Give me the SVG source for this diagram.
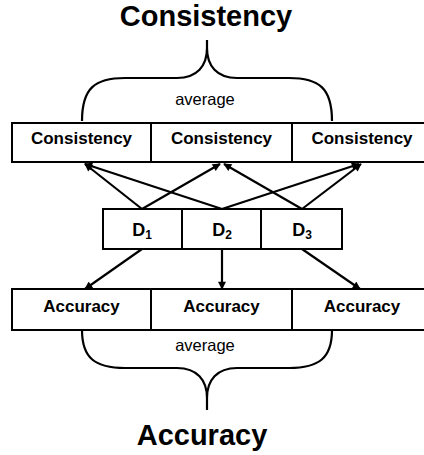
<svg xmlns="http://www.w3.org/2000/svg" width="424" height="455" viewBox="0 0 424 455">
<style>
.box{fill:#fff;stroke:#000;stroke-width:2}
.lbl{font-family:"Liberation Sans",Arial,sans-serif;font-weight:bold;font-size:17px;text-anchor:middle;fill:#000}
.dl{font-family:"Liberation Sans",Arial,sans-serif;font-weight:bold;font-size:18px;text-anchor:middle;fill:#000}
.title{font-family:"Liberation Sans",Arial,sans-serif;font-weight:bold;font-size:29px;text-anchor:middle;fill:#000}
.avg{font-family:"Liberation Sans",Arial,sans-serif;font-size:16.5px;text-anchor:middle;fill:#000}
.brace{fill:none;stroke:#000;stroke-width:2.2}
.arr{fill:none;stroke:#000;stroke-width:2.2;marker-end:url(#ah)}
</style>
<defs>
<marker id="ah" viewBox="0 0 10 10" refX="9" refY="5" markerWidth="9" markerHeight="8" markerUnits="userSpaceOnUse" orient="auto">
<path d="M0,0 L10,5 L0,10 z" fill="#000"/>
</marker>
</defs>
<rect width="424" height="455" fill="#fff"/>
<g id="title-consistency"><text class="title" x="206" y="26">Consistency</text></g>
<g id="brace-top"><path class="brace" d="M82,121 C82,88 95,78 125,78 L177,78 C197,78 207,66 207,48 L207,40 M207,48 C207,66 217,78 237,78 L289,78 C319,78 332,88 332,121"/>
<text class="avg" x="205" y="105">average</text></g>
<g id="cons1"><rect class="box" x="12" y="123" width="139" height="39"/><text class="lbl" x="81.5" y="144">Consistency</text></g>
<g id="cons2"><rect class="box" x="151" y="123" width="141" height="39"/><text class="lbl" x="221.5" y="144">Consistency</text></g>
<g id="cons3"><rect class="box" x="292" y="123" width="140" height="39"/><text class="lbl" x="362" y="144">Consistency</text></g>
<g id="d1"><rect class="box" x="103" y="209" width="79" height="40"/><text class="dl" x="142" y="236">D<tspan font-size="12" dy="3">1</tspan></text></g>
<g id="d2"><rect class="box" x="182" y="209" width="79" height="40"/><text class="dl" x="222" y="236">D<tspan font-size="12" dy="3">2</tspan></text></g>
<g id="d3"><rect class="box" x="261" y="209" width="81" height="40"/><text class="dl" x="302" y="236">D<tspan font-size="12" dy="3">3</tspan></text></g>
<g id="acc1"><rect class="box" x="12" y="289" width="139" height="41"/><text class="lbl" x="81.5" y="312">Accuracy</text></g>
<g id="acc2"><rect class="box" x="151" y="289" width="141" height="41"/><text class="lbl" x="221.5" y="312">Accuracy</text></g>
<g id="acc3"><rect class="box" x="292" y="289" width="140" height="41"/><text class="lbl" x="362" y="312">Accuracy</text></g>
<g id="connectors">
<line class="arr" x1="142" y1="209" x2="85" y2="164"/>
<line class="arr" x1="222" y1="209" x2="85" y2="164"/>
<line class="arr" x1="142" y1="209" x2="220" y2="164"/>
<line class="arr" x1="302" y1="209" x2="224" y2="164"/>
<line class="arr" x1="222" y1="209" x2="359" y2="164"/>
<line class="arr" x1="302" y1="209" x2="361" y2="164"/>
<line class="arr" x1="142" y1="249" x2="85" y2="289"/>
<line class="arr" x1="222" y1="249" x2="222" y2="289"/>
<line class="arr" x1="302" y1="249" x2="360" y2="289"/>
</g>
<g id="brace-bottom"><path class="brace" d="M82,330 C82,358 95,368 125,368 L177,368 C197,368 207,380 207,398 L207,410 M207,398 C207,380 217,368 237,368 L289,368 C319,368 332,358 332,330"/>
<text class="avg" x="205" y="351">average</text></g>
<g id="title-accuracy"><text class="title" x="202" y="445">Accuracy</text></g>
</svg>
